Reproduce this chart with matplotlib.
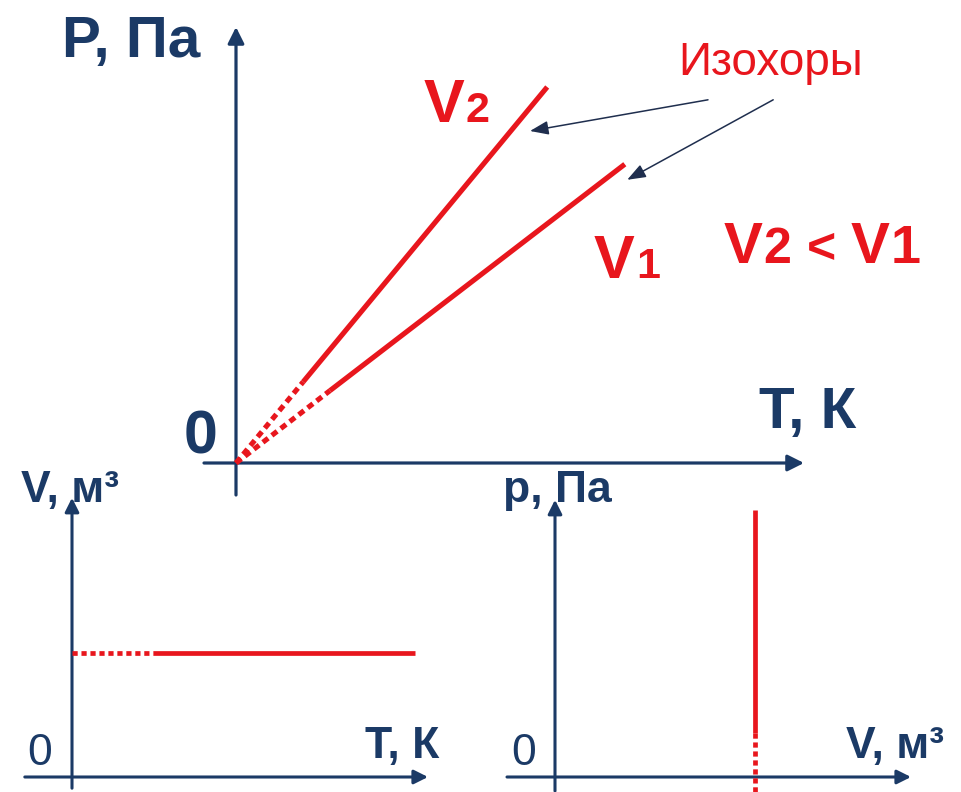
import matplotlib
matplotlib.use("Agg")
import matplotlib.pyplot as plt

plt.rcParams['font.family'] = ['Liberation Sans', 'DejaVu Sans']

W, H = 962, 792
NAVY = '#1b3a66'
RED = '#e8161d'

# main P-T plot, isochores P = k*T (dotted near zero, solid after)
T_v2 = [0, 1.68, 7.78]
P_v2 = [0, 2.03, 9.40]
T_v1 = [0, 2.35, 9.72]
P_v1 = [0, 1.81, 7.47]

# small V-T plot: V = const
T_iso = [0, 2.03, 8.58]
V_iso = [3.1, 3.1, 3.1]

# small p-V plot: V = const
V_line = [5.0, 5.0, 5.0]
p_line = [-0.38, 1.1, 6.68]

# callout arrows "Изохоры" -> lines (tail, head)
callout_tails = [(11.8, 9.08), (13.43, 9.08)]
callout_heads = [(7.35, 8.30), (9.78, 7.08)]


def panel(ox, oy, s=40.0):
    # axes over the whole figure, origin at pixel (ox, oy), s px per unit
    ax = fig.add_axes([0, 0, 1, 1])
    ax.set_xlim(-ox / s, (W - ox) / s)
    ax.set_ylim((oy - H) / s, oy / s)
    ax.axis('off')
    return ax


def axis_arrow(ax, start, tip, lw=2.3, scale=14):
    ax.annotate('', xy=tip, xytext=start,
                arrowprops=dict(arrowstyle='-|>,head_length=0.7,head_width=0.35',
                                color=NAVY, lw=lw, mutation_scale=scale,
                                shrinkA=0, shrinkB=0))


def iso(ax, x, y, lw=3.4, dots=(1.3, 0.9)):
    ax.plot(x[:2], y[:2], color=RED, lw=lw, linestyle=(0, dots),
            solid_capstyle='butt', dash_capstyle='butt', zorder=5)
    ax.plot(x[1:], y[1:], color=RED, lw=lw, solid_capstyle='butt', zorder=5)


def label(x, y, s, size, color=NAVY, weight='bold'):
    fig.text(x / W, 1 - y / H, s, ha='left', va='baseline',
             fontsize=size, color=color, fontweight=weight)


fig = plt.figure(figsize=(W / 100, H / 100), dpi=100)

# ---- main panel
ax = panel(236, 463)
axis_arrow(ax, (-0.8, 0), (14.2, 0))
axis_arrow(ax, (0, -0.8), (0, 10.9))
iso(ax, T_v2, P_v2, lw=3.7)
iso(ax, T_v1, P_v1, lw=3.7)
for tail, head in zip(callout_tails, callout_heads):
    ax.annotate('', xy=head, xytext=tail,
                arrowprops=dict(arrowstyle='-|>,head_length=0.8,head_width=0.3',
                                color='#1f2e4e', lw=1.1, mutation_scale=14,
                                shrinkA=0, shrinkB=0))

label(62, 57, 'P, Па', 42)
label(184, 453, '0', 44)
label(759, 428, 'T, К', 42)
label(424, 122, 'V', 44, RED)
label(466, 122, '2', 31, RED)
label(594, 278, 'V', 44, RED)
label(636, 278, '1', 31, RED)
label(724, 263, 'V', 42, RED)
label(763, 263, '2', 36, RED)
label(807, 263, '<', 36, RED)
label(851, 263, 'V', 42, RED)
label(891, 263, '1', 39, RED)
label(678, 75, 'Изохоры', 33, RED, 'normal')

# ---- bottom left: V-T
ax2 = panel(72, 777)
axis_arrow(ax2, (-1.18, 0), (8.9, 0), lw=2.2, scale=12)
axis_arrow(ax2, (0, -0.28), (0, 6.98), lw=2.2, scale=12)
iso(ax2, T_iso, V_iso, lw=3.4, dots=(1.1, 0.8))
label(21, 502, 'V, м³', 32)
label(27, 765, '0', 32, weight='normal')
label(365, 758, 'T, К', 32)

# ---- bottom right: p-V
ax3 = panel(555, 777)
axis_arrow(ax3, (-1.2, 0), (8.9, 0), lw=2.2, scale=12)
axis_arrow(ax3, (0, -0.35), (0, 6.93), lw=2.2, scale=12)
iso(ax3, V_line[::-1], p_line, lw=3.4, dots=(1.1, 0.8))
label(503, 502, 'p, Па', 32)
label(511, 765, '0', 32, weight='normal')
label(846, 758, 'V, м³', 32)

fig.savefig('out.png', dpi=100, facecolor='white')
